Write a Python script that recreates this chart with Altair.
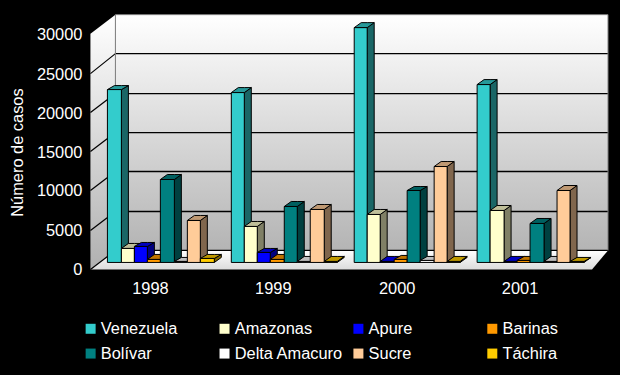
import altair as alt
import pandas as pd

years = ["1998", "1999", "2000", "2001"]
series = ["Venezuela", "Amazonas", "Apure", "Barinas", "Bolívar", "Delta Amacuro", "Sucre", "Táchira"]
venezuela = [21950, 21650, 29920, 22670]
amazonas = [1800, 4600, 6130, 6640]
apure = [2000, 1250, 190, 150]
barinas = [400, 400, 320, 200]
bolivar = [10580, 7150, 9130, 4990]
delta = [120, 190, 200, 150]
sucre = [5370, 6770, 12240, 9190]
tachira = [480, 150, 150, 120]
all_values = [venezuela, amazonas, apure, barinas, bolivar, delta, sucre, tachira]

front_colors = ["#33CCCC", "#FFFFCC", "#0000FF", "#FF9900", "#008080", "#FFFFFF", "#FFCC99", "#FFCC00"]
side_colors = ["#1A6666", "#808066", "#000080", "#804D00", "#004040", "#808080", "#80664D", "#806600"]
top_colors = ["#269999", "#BFBF99", "#0000BF", "#BF7300", "#006060", "#BFBFBF", "#BF9973", "#BF9900"]
y_ticks = [0, 5000, 10000, 15000, 20000, 25000, 30000]

PX = 5000 / 39.3            # cases per pixel
BASE = 262.5                # page row of the bars' zero line
W, H = 604, 359
FONT = "Liberation Sans"
FS = 16.4


def cases(row):
    return (BASE - row) * PX


x_scale = alt.Scale(domain=[8.5, 8.5 + W], nice=False, zero=False, round=True)
y_scale = alt.Scale(domain=[cases(8.5 + H), cases(8.5)], nice=False, zero=False, round=True)
X = alt.X("x:Q", scale=x_scale, axis=None)
Y = alt.Y("y:Q", scale=y_scale, axis=None)
Y2 = alt.Y2("y2:Q")

# bars ---------------------------------------------------------------
DX, DY = 7, 4.5 * PX
BW = 13.3
STEP = 123.3
front, side, top = [], [], []
for c, year in enumerate(years):
    for s, name in enumerate(series):
        v = all_values[s][c]
        x0 = round(107.3 + STEP * c + BW * s) + 0.5
        x1 = round(107.3 + STEP * c + BW * (s + 1)) + 0.5
        key = f"{year}-{s}"
        front.append(dict(series=name, x=x0, x2=x1, y=0, y2=v))
        side += [
            dict(bar=key, s=s, x=x1, y=0, y2=v),
            dict(bar=key, s=s, x=x1 + DX, y=DY, y2=v + DY),
        ]
        top += [
            dict(bar=key, s=s, x=x0, y=v, y2=v),
            dict(bar=key, s=s, x=x0 + DX, y=v, y2=v + DY),
            dict(bar=key, s=s, x=x1, y=v, y2=v + DY),
            dict(bar=key, s=s, x=x1 + DX, y=v + DY, y2=v + DY),
        ]
front_df, side_df, top_df = pd.DataFrame(front), pd.DataFrame(side), pd.DataFrame(top)

# frame --------------------------------------------------------------
LEFT, BACK, RIGHT, FRONT_R = 90.5, 115.5, 608.5, 592
SHIFT = 19 * PX
ZERO_FRONT = cases(269.5)
ZERO_BACK = ZERO_FRONT + SHIFT
TOP_BACK = ZERO_BACK + 30000

grad = lambda a, b: alt.Gradient(gradient="linear", x1=0, x2=0, y1=0, y2=1,
                                 stops=[alt.GradientStop(offset=0, color=a), alt.GradientStop(offset=1, color=b)])

back_wall = alt.Chart(pd.DataFrame([dict(x=BACK, x2=RIGHT, y=ZERO_BACK, y2=TOP_BACK)])).mark_rect(
    color=grad("#FFFFFF", "#B4B4B4")
).encode(X, alt.X2("x2:Q"), Y, Y2)

left_wall = alt.Chart(pd.DataFrame([
    dict(x=LEFT, y=ZERO_FRONT, y2=ZERO_FRONT + 30000),
    dict(x=BACK, y=ZERO_BACK, y2=TOP_BACK),
])).mark_area(orient="vertical", color=grad("#FFFFFF", "#B0B0B0")).encode(X, Y, Y2)

floor = alt.Chart(pd.DataFrame([
    dict(x=LEFT, y=ZERO_FRONT, y2=ZERO_FRONT),
    dict(x=BACK, y=ZERO_FRONT, y2=ZERO_BACK),
    dict(x=FRONT_R, y=ZERO_FRONT, y2=ZERO_BACK),
    dict(x=RIGHT, y=ZERO_BACK, y2=ZERO_BACK),
])).mark_area(orient="vertical", color=grad("#FFFFFF", "#DCDCDC")).encode(X, Y, Y2)

grid_back = alt.Chart(pd.DataFrame(
    [dict(x=BACK, x2=RIGHT, y=ZERO_BACK + t) for t in y_ticks[:-1]]
)).mark_rule(color="black", strokeWidth=1.3).encode(X, alt.X2("x2:Q"), Y)

grid_left = alt.Chart(pd.DataFrame(
    [dict(t=t, x=LEFT, y=ZERO_FRONT + t) for t in y_ticks[:-1]]
    + [dict(t=t, x=BACK, y=ZERO_BACK + t) for t in y_ticks[:-1]]
)).mark_line(color="black", strokeWidth=1.2).encode(X, Y, detail="t:N")

edges = alt.Chart(pd.DataFrame([
    dict(e="l", x=BACK, y=ZERO_BACK), dict(e="l", x=BACK, y=TOP_BACK),
    dict(e="t", x=BACK, y=TOP_BACK), dict(e="t", x=RIGHT, y=TOP_BACK),
    dict(e="r", x=RIGHT, y=TOP_BACK), dict(e="r", x=RIGHT, y=ZERO_BACK),
])).mark_line(color="#808080", strokeWidth=1).encode(X, Y, detail="e:N")

# bar faces ----------------------------------------------------------
face_color = lambda colors: alt.Color("s:N", scale=alt.Scale(domain=list(range(8)), range=colors), legend=None)
sides = alt.Chart(side_df).mark_area(orient="vertical", stroke="black", strokeWidth=1).encode(
    X, Y, Y2, color=face_color(side_colors), detail="bar:N")
tops = alt.Chart(top_df).mark_area(orient="vertical", stroke="black", strokeWidth=1).encode(
    X, Y, Y2, color=face_color(top_colors), detail="bar:N")
fronts = alt.Chart(front_df).mark_rect(stroke="black", strokeWidth=1).encode(
    X, alt.X2("x2:Q"), Y, Y2,
    color=alt.Color("series:N", sort=series,
                    scale=alt.Scale(domain=series, range=front_colors),
                    legend=alt.Legend(orient="none", legendX=74, legendY=312, columns=4, title=None,
                                      direction="horizontal",
                                      symbolType="square", symbolSize=100, symbolStrokeWidth=0,
                                      gridAlign="all", columnPadding=7, rowPadding=8,
                                      labelColor="white", labelFont=FONT, labelFontSize=FS,
                                      labelOffset=2, labelLimit=200)),
)

# texts --------------------------------------------------------------
tick_labels = alt.Chart(pd.DataFrame(
    [dict(x=82.5, y=ZERO_FRONT - 1 * PX + t, label=str(t)) for t in y_ticks]
)).mark_text(color="white", font=FONT, fontSize=FS, align="right", baseline="middle").encode(X, Y, text="label:N")

year_labels = alt.Chart(pd.DataFrame(
    [dict(x=150.5 + STEP * i, y=cases(289), label=yr) for i, yr in enumerate(years)]
)).mark_text(color="white", font=FONT, fontSize=FS, align="center", baseline="middle").encode(X, Y, text="label:N")

y_title = alt.Chart(pd.DataFrame([dict(x=18, y=cases(152.5), label="Número de casos")])).mark_text(
    color="white", font=FONT, fontSize=FS, angle=270, align="center", baseline="middle"
).encode(X, Y, text="label:N")

chart = alt.layer(
    back_wall, left_wall, floor, grid_back, grid_left, edges,
    sides, tops, fronts, tick_labels, year_labels, y_title,
).resolve_scale(color="independent").properties(
    width=W, height=H, background="black",
    padding={"left": 0.5, "top": 0.5, "right": 0, "bottom": 0},
).configure_view(stroke=None)

chart.save("out.html", embed_options={"renderer": "svg", "actions": False, "defaultStyle": "body{background:#000}"})
